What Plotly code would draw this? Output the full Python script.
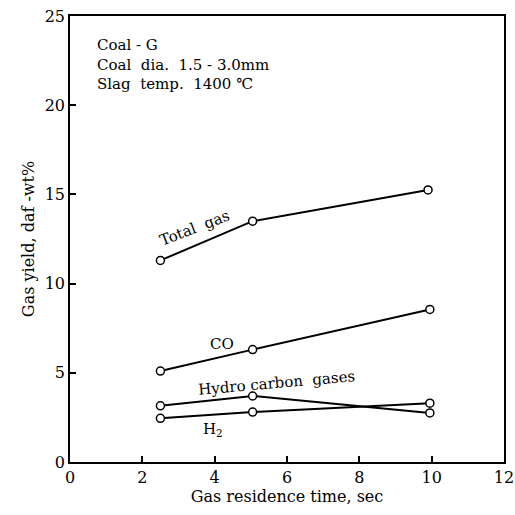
import plotly.graph_objects as go

time_total = [2.5, 5.05, 9.9]
total_gas = [11.3, 13.5, 15.25]
time_co = [2.5, 5.05, 9.95]
co = [5.1, 6.3, 8.55]
time_hc = [2.5, 5.05, 9.95]
hydrocarbon = [3.15, 3.7, 2.75]
time_h2 = [2.5, 5.05, 9.95]
h2 = [2.45, 2.8, 3.3]

x_ticks = [0, 2, 4, 6, 8, 10, 12]
y_ticks = [0, 5, 10, 15, 20, 25]

FONT = "DejaVu Serif, Liberation Serif, serif"

fig = go.Figure()
for xs, ys in [(time_total, total_gas), (time_co, co), (time_hc, hydrocarbon), (time_h2, h2)]:
    fig.add_trace(go.Scatter(
        x=xs, y=ys, mode="lines+markers",
        line=dict(color="black", width=2),
        marker=dict(symbol="circle", size=8, color="white", line=dict(color="black", width=1.5)),
        showlegend=False,
    ))

labels = [
    (3.45, 13.1, "Total  gas", -21),
    (4.2, 6.6, "CO", 0),
    (5.7, 4.45, "Hydro carbon  gases", -5),
    (3.95, 1.85, "H<sub>2</sub>", 0),
]
for x, y, t, ang in labels:
    fig.add_annotation(x=x, y=y, text=t, showarrow=False, textangle=ang,
                       font=dict(family=FONT, size=15, color="black"))

fig.add_annotation(x=0.68, y=24.0, xanchor="left", yanchor="top", align="left",
                   text="Coal - G<br>Coal  dia.  1.5 - 3.0mm<br>Slag  temp.  1400 ℃",
                   showarrow=False, font=dict(family=FONT, size=15, color="black"))

axis_common = dict(showgrid=False, zeroline=False, showline=True, linecolor="black",
                   linewidth=1.5, mirror=True, ticks="inside", ticklen=6, tickwidth=1.5,
                   tickcolor="black", tickfont=dict(family=FONT, size=16, color="black"),
                   automargin=False)

fig.update_xaxes(range=[0, 12], tickvals=x_ticks, ticklabeloverflow="allow",
                 title=dict(text="Gas residence time, sec", font=dict(family=FONT, size=16, color="black"), standoff=2),
                 **axis_common)
fig.update_yaxes(range=[0, 25], tickvals=y_ticks,
                 title=dict(text="Gas yield, daf -wt%", font=dict(family=FONT, size=16, color="black"), standoff=6),
                 **axis_common)

fig.update_layout(width=515, height=515, margin=dict(l=70, r=11, t=16, b=53),
                  paper_bgcolor="white", plot_bgcolor="white")

fig.write_html("out.html")
